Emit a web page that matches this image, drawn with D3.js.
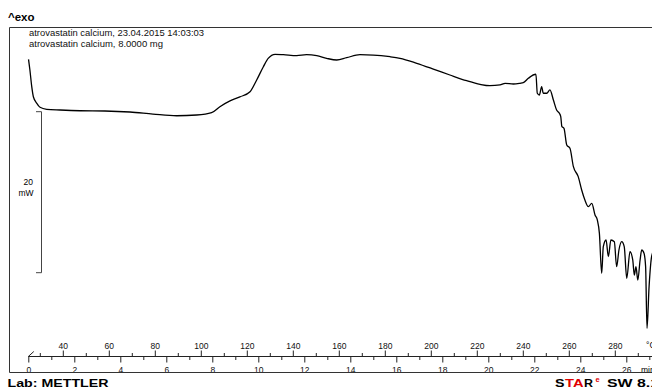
<!DOCTYPE html>
<html>
<head>
<meta charset="utf-8">
<script src="https://cdn.jsdelivr.net/npm/d3@7"></script>
<style>
  body { margin: 0; background: #fff; }
  svg { display: block; font-family: Arial, "Liberation Sans", sans-serif; }
</style>
</head>
<body>
<div id="screen"></div>
<script>
var width = 652;
var height = 390;

// DSC curve: time (min) / heat flow (mW, exo up)
var timeMin = [0.01, 0.07, 0.15, 0.22, 0.37, 0.51, 0.80, 1.38, 2.25, 3.33, 4.42, 5.42, 6.45, 7.32, 7.97,
  8.33, 8.77, 9.20, 9.64, 9.93, 10.22, 10.43, 10.73, 11.09, 11.67, 12.10, 12.54, 12.97, 13.41, 13.84,
  14.42, 15.00, 15.73, 16.16, 16.89, 17.61, 18.33, 19.06, 19.64, 20.07, 20.51, 20.73, 21.09, 21.38, 21.52,
  21.74, 22.07, 22.13, 22.22, 22.32, 22.39, 22.54, 22.68, 22.83, 22.97, 23.09, 23.15, 23.20, 23.29, 23.41,
  23.55, 23.70, 23.91, 24.06, 24.20, 24.35, 24.50, 24.64, 24.74, 24.83, 24.93, 25.00, 25.12, 25.22, 25.33,
  25.48, 25.58, 25.68, 25.80, 25.91, 26.02, 26.16, 26.28, 26.35, 26.42, 26.50, 26.60, 26.67, 26.77, 26.84,
  26.90, 26.99, 27.10, 27.20];
var heatFlow = [6.51, 5.18, 3.11, 1.86, 1.04, 0.55, 0.30, 0.21, 0.12, 0.09, -0.04, -0.29, -0.50, -0.41, -0.12,
  0.62, 1.34, 1.84, 2.48, 3.94, 5.59, 6.63, 7.13, 7.08, 6.96, 7.08, 6.96, 6.63, 6.42, 6.71,
  7.08, 7.04, 6.83, 6.63, 6.01, 5.30, 4.56, 3.85, 3.40, 3.23, 3.32, 3.53, 3.44, 3.53, 3.60,
  4.15, 4.65, 2.29, 2.07, 3.11, 2.29, 2.29, 2.70, 1.45, 0.21, -0.20, -0.62, -1.86, -2.06, -4.14,
  -4.55, -6.83, -8.07, -9.73, -10.97, -11.80, -11.38, -12.83, -13.45, -15.11, -20.07, -16.77, -15.94, -18.01, -15.94,
  -16.15, -19.25, -17.18, -16.15, -16.77, -20.70, -17.39, -18.42, -20.29, -19.25, -20.91, -18.42, -17.18, -17.59, -19.25,
  -26.91, -21.74, -18.01, -17.18];

var timeTicks = [0, 2, 4, 6, 8, 10, 12, 14, 16, 18, 20, 22, 24, 26];
var timeMinor = [1, 3, 5, 7, 9, 11, 13, 15, 17, 19, 21, 23, 25, 27];
var tempTicks = [40, 60, 80, 100, 120, 140, 160, 180, 200, 220, 240, 260, 280];
var tempMinor = [30, 50, 70, 90, 110, 130, 150, 170, 190, 210, 230, 250, 270, 290];
var startTemp = 25;   // °C at 0 min
var heatRate = 10;    // K/min
var scaleBar = [0, -20]; // mW

var titleText = "^exo";
var infoLines = ["atrovastatin calcium, 23.04.2015 14:03:03", "atrovastatin calcium, 8.0000 mg"];
var infoWidths = [175, 134];

var axisY = 356.5;
var frameTop = 27.5;
var frameBottom = 372.5;
var frameLeft = 9.5;

var svg = d3.select("#screen").append("svg")
  .attr("width", width).attr("height", height);

var xTime = d3.scaleLinear().domain([0, 26]).range([28.3, 626.3]);
var xTemp = d3.scaleLinear()
  .domain([startTemp, startTemp + heatRate * 26])
  .range([28.3, 626.3]);
var yScale = d3.scaleLinear().domain([-20, 0]).range([272.7, 111.7]);

// title + info
svg.append("text").attr("x", 8).attr("y", 21)
  .attr("font-size", "11.5px").attr("font-weight", "bold").text(titleText);
svg.selectAll("text.info").data(infoLines).enter().append("text")
  .attr("class", "info")
  .attr("x", 29)
  .attr("y", function (d, i) { return 36.3 + i * 10.5; })
  .attr("font-size", "8.3px")
  .attr("fill", "#111")
  .attr("textLength", function (d, i) { return infoWidths[i]; })
  .attr("lengthAdjust", "spacingAndGlyphs")
  .text(function (d) { return d; });

// frame
svg.append("path")
  .attr("d", "M" + width + "," + frameTop + "H" + frameLeft + "V" + frameBottom + "H" + width)
  .attr("fill", "none").attr("stroke", "#333").attr("stroke-width", 1);

// scale bar 20 mW
var bx = 41.5;
svg.append("path")
  .attr("d", "M36," + yScale(scaleBar[0]) + "H" + bx + "V" + yScale(scaleBar[1]) + "H36")
  .attr("fill", "none").attr("stroke", "#444").attr("stroke-width", 1);
svg.append("text").attr("x", 33).attr("y", 185).attr("text-anchor", "end")
  .attr("font-size", "8.5px").text(Math.abs(scaleBar[1] - scaleBar[0]));
svg.append("text").attr("x", 33.5).attr("y", 195.5).attr("text-anchor", "end")
  .attr("font-size", "8.5px").text("mW");

// curve
var data = timeMin.map(function (t, i) { return { t: t, v: heatFlow[i] }; });
var line = d3.line()
  .x(function (d) { return xTime(d.t); })
  .y(function (d) { return yScale(d.v); })
  .curve(d3.curveMonotoneX);
svg.append("path").datum(data)
  .attr("d", line)
  .attr("fill", "none")
  .attr("stroke", "#000")
  .attr("stroke-width", 1.3)
  .attr("stroke-linejoin", "round");

// axes (clip rect is in the translated group's coordinates)
svg.append("clipPath").attr("id", "axclip")
  .append("rect").attr("x", 0).attr("y", -40).attr("width", width).attr("height", 40 + frameBottom - axisY - 0.5);

var axG = svg.append("g").attr("transform", "translate(0," + axisY + ")")
  .attr("clip-path", "url(#axclip)");

var tempAxis = d3.axisTop(xTemp).tickValues(tempTicks).tickSize(6).tickPadding(2).tickSizeOuter(0);
var tempAxisMinor = d3.axisTop(xTemp).tickValues(tempMinor).tickSize(3.5).tickFormat("").tickSizeOuter(0);
var timeAxis = d3.axisBottom(xTime).tickValues(timeTicks).tickSize(6).tickPadding(4).tickSizeOuter(0);
var timeAxisMinor = d3.axisBottom(xTime).tickValues(timeMinor).tickSize(3.5).tickFormat("").tickSizeOuter(0);

[tempAxis, tempAxisMinor, timeAxis, timeAxisMinor].forEach(function (ax) {
  var g = axG.append("g").call(ax);
  g.select(".domain").remove();
  g.selectAll("line").attr("stroke", "#222");
  g.selectAll("text").attr("font-size", "8.5px").attr("font-family", "Arial, 'Liberation Sans', sans-serif").attr("fill", "#111");
});

axG.append("line")
  .attr("x1", xTime(0)).attr("x2", width)
  .attr("y1", 0).attr("y2", 0)
  .attr("stroke", "#222");
axG.append("line")
  .attr("x1", xTime(0)).attr("y1", 0)
  .attr("x2", xTime(0) + 5.5).attr("y2", -5)
  .attr("stroke", "#222");
axG.append("text").attr("x", 646).attr("y", -9)
  .attr("font-size", "8.5px").text("°C");
axG.append("text").attr("x", 641).attr("y", 16.5)
  .attr("font-size", "8.5px").text("min");

// footer
svg.append("text").attr("x", 7.5).attr("y", 386.5)
  .attr("font-size", "11.5px").attr("font-weight", "bold")
  .attr("textLength", 101).attr("lengthAdjust", "spacingAndGlyphs")
  .text("Lab: METTLER");

var starParts = [
  { s: "S", x: 555, w: 9.5, c: "#000" },
  { s: "TA", x: 565, w: 18.5, c: "#e00000" },
  { s: "R", x: 584, w: 9, c: "#000" },
  { s: "SW 8.1", x: 607, w: 52, c: "#000" }
];
svg.selectAll("text.star").data(starParts).enter().append("text")
  .attr("class", "star")
  .attr("x", function (d) { return d.x; })
  .attr("y", 386.5)
  .attr("font-size", "11.5px").attr("font-weight", "bold")
  .attr("fill", function (d) { return d.c; })
  .attr("textLength", function (d) { return d.w; })
  .attr("lengthAdjust", "spacingAndGlyphs")
  .text(function (d) { return d.s; });
svg.append("text").attr("x", 595.5).attr("y", 382)
  .attr("font-size", "7.5px").attr("font-weight", "bold").attr("fill", "#e00000").text("e");
</script>
</body>
</html>
